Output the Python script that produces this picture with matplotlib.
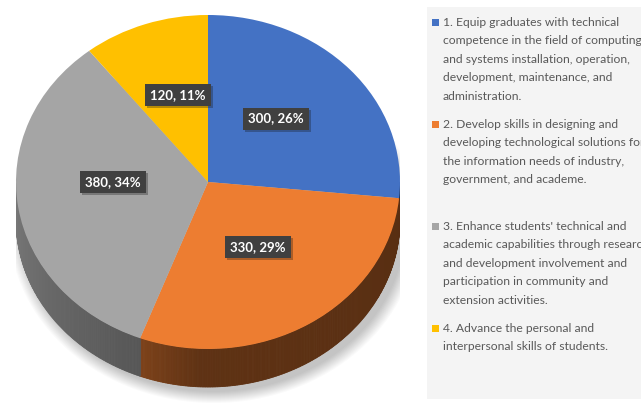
import numpy as np
import matplotlib.pyplot as plt
import matplotlib.patheffects as pe
from matplotlib.patches import Rectangle, Ellipse, Polygon
from matplotlib.colors import to_rgb

# data
values = [300, 330, 380, 120]
percents = [26, 29, 34, 11]
colors = ['#4472C4', '#ED7D31', '#A5A5A5', '#FFC000']
categories = [
    "1. Equip graduates with technical\ncompetence in the field of computing\n"
    "and systems installation, operation,\ndevelopment, maintenance, and\nadministration.",
    "2. Develop skills in designing and\ndeveloping technological solutions for\n"
    "the information needs of industry,\ngovernment, and academe.",
    "3. Enhance students' technical and\nacademic capabilities through research\n"
    "and development involvement and\nparticipation in community and\nextension activities.",
    "4. Advance the personal and\ninterpersonal skills of students.",
]

W, H = 641, 403
fig = plt.figure(figsize=(W / 100, H / 100), dpi=100)

# pie geometry (pixels): centre, radii, thickness
cx, cy, rx, ry, depth = 208, 182, 192, 167, 38
y_top, y_bot = 1.08, -1.33
ax = fig.add_axes([(cx - rx) / W, (H - (cy - y_bot * ry)) / H,
                   2 * rx / W, (y_top - y_bot) * ry / H])

wedges, _ = ax.pie(values, colors=colors, startangle=90, counterclock=False,
                   radius=1, wedgeprops=dict(linewidth=0))
for w in wedges:
    w.set_zorder(5)

dd = depth / ry

# soft shadow under the pie
for k in range(12):
    ax.add_patch(Ellipse((0.03, -dd - 0.03), 2.0 + 0.012 * k, 2.0 + 0.012 * k,
                         facecolor='black', alpha=0.02, linewidth=0, zorder=1))


def shade(a):
    return np.interp(a, [180, 251, 268, 360], [0.74, 0.52, 0.40, 0.37])


# side wall of the front half
for w, c in zip(wedges, colors):
    base = np.array(to_rgb(c))
    ang = np.arange(w.theta1, w.theta2 + 0.5, 0.5)
    ang = np.clip(ang, w.theta1, w.theta2)
    for a, b in zip(ang[:-1], ang[1:]):
        am = (0.5 * (a + b)) % 360
        if am < 180:
            continue
        ra, rb = np.radians(a), np.radians(b)
        pts = [(np.cos(ra), np.sin(ra)), (np.cos(rb), np.sin(rb)),
               (np.cos(rb), np.sin(rb) - dd), (np.cos(ra), np.sin(ra) - dd)]
        col = base * shade(am)
        ax.add_patch(Polygon(pts, closed=True, facecolor=col, edgecolor=col,
                             linewidth=0.6, zorder=3))

ax.set_aspect('auto')
ax.set_xlim(-1, 1)
ax.set_ylim(y_bot, y_top)
ax.axis('off')

# data labels
label_xy = [(0.354, 0.38), (0.260, -0.39), (-0.495, 0.0), (-0.156, 0.52)]
for (lx, ly), v, p in zip(label_xy, values, percents):
    t = ax.text(lx, ly, f"{v}, {p}%", ha='center', va='center', fontsize=9.5,
                family='Lato', fontweight='bold', color='white', zorder=7,
                bbox=dict(boxstyle='square,pad=0.38', facecolor='#404040',
                          edgecolor='none'))
    t.get_bbox_patch().set_path_effects(
        [pe.SimplePatchShadow(offset=(1.5, -1.5), alpha=0.3), pe.Normal()])

# legend panel
lax = fig.add_axes([0, 0, 1, 1], zorder=-1)
lax.set_xlim(0, W)
lax.set_ylim(H, 0)
lax.axis('off')
lax.add_patch(Rectangle((427, 7), W - 427, 392, facecolor='#f4f4f4',
                        edgecolor='none'))

item_y = [22, 124, 226, 328]
line_h = 18.6
for y0, cat, c in zip(item_y, categories, colors):
    lax.add_patch(Rectangle((432, y0 - 3.5), 7, 7, facecolor=c, edgecolor='none'))
    for i, line in enumerate(cat.split('\n')):
        lax.text(443, y0 + i * line_h, line, ha='left', va='center',
                 fontsize=8.7, family='Lato', color='#595959')

fig.savefig('out.png', dpi=100)
